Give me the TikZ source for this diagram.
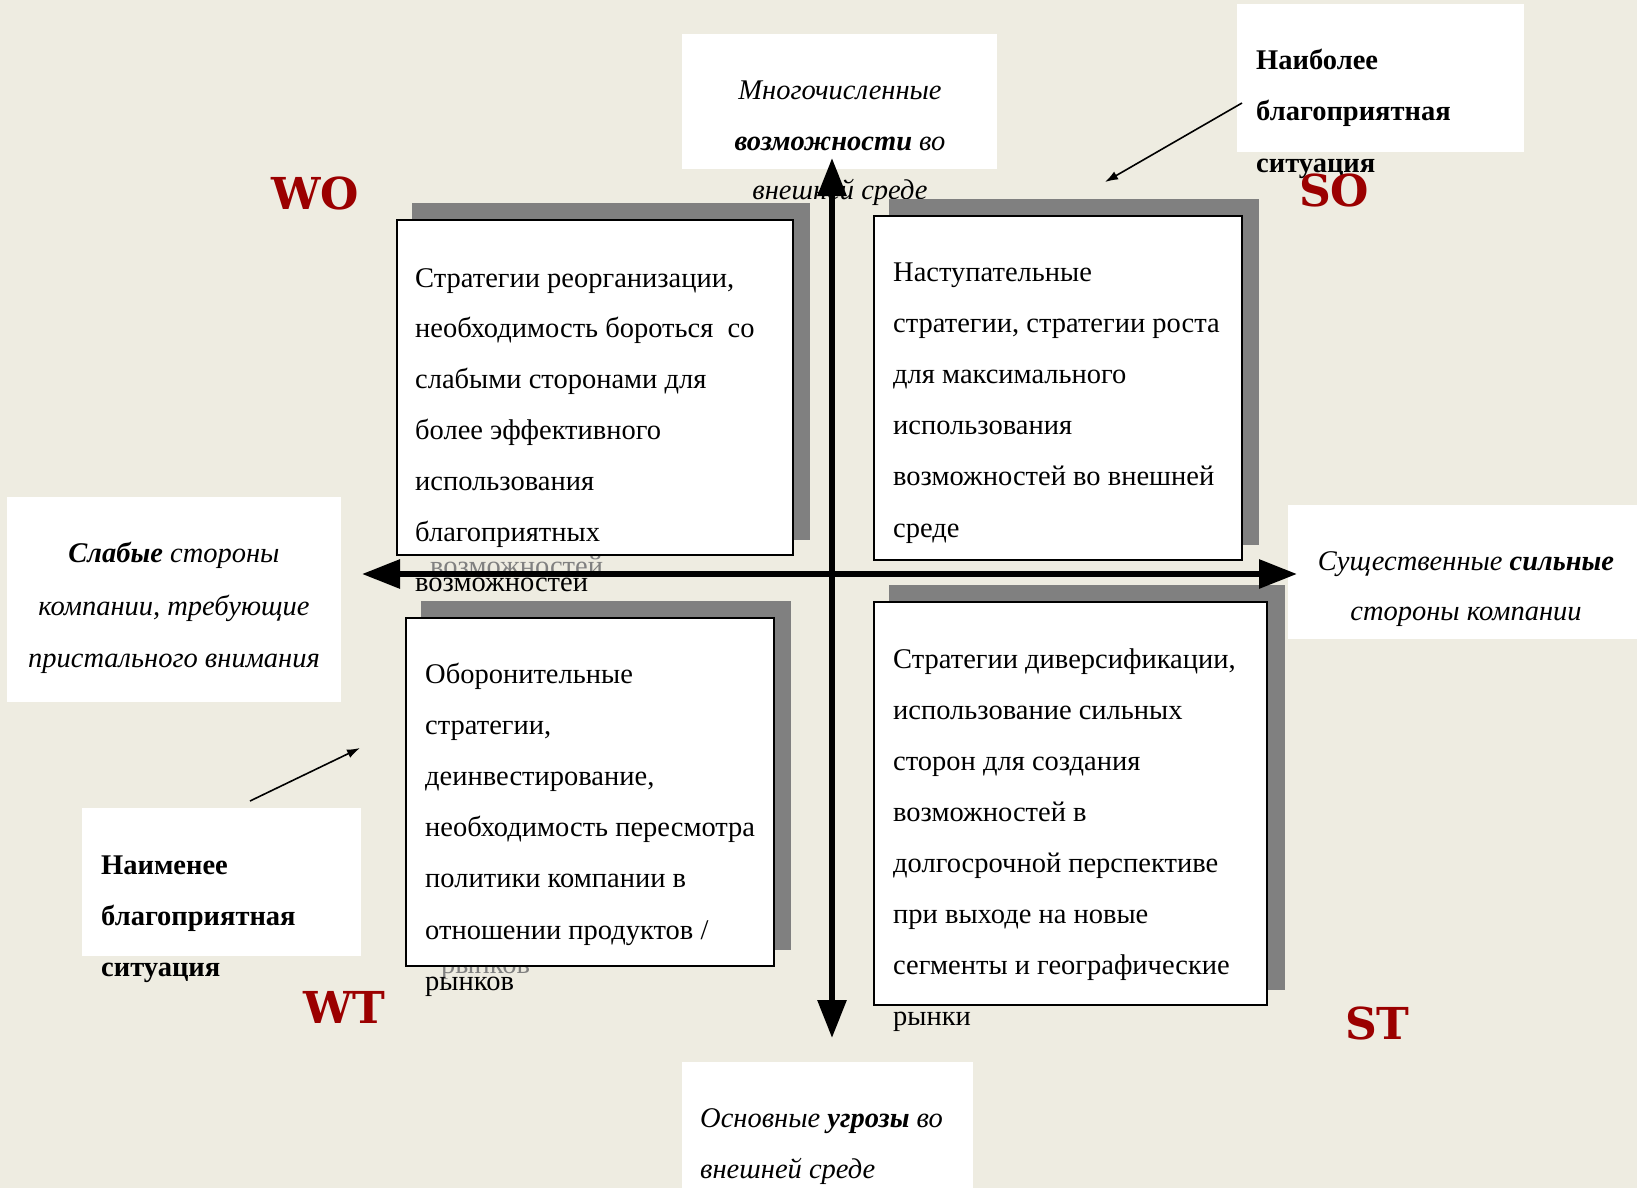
\documentclass[tikz,border=0pt]{standalone}
\usepackage{fontspec}
\setmainfont{Liberation Serif}
\newfontfamily\swotfamily{DejaVu Serif}
\usetikzlibrary{arrows.meta}
\definecolor{bg}{RGB}{238,236,225}
\definecolor{shadowgray}{RGB}{128,128,128}
\definecolor{swotred}{RGB}{155,0,0}
\newcommand\bodyfont{\fontsize{28.5}{34}\selectfont}
\newcommand\redfont{\swotfamily\fontsize{44}{52}\selectfont\bfseries}
\newcommand\qlines[6]{\foreach \t [count=\i] in {#6} {\node[#5] (#1\i) at (#2, {#3+(\i-1)*#4}) {\t};}}
\tikzset{
  ln/.style={anchor=base west, inner sep=0pt, font=\bodyfont},
  ghost/.style={ln, text=shadowgray},
  lnc/.style={anchor=base, inner sep=0pt, font=\bodyfont\itshape},
  lni/.style={ln, font=\bodyfont\itshape},
  lnb/.style={ln, font=\bodyfont\bfseries},
  shadowbox/.style={fill=shadowgray, draw=none},
  quadbox/.style={fill=white, draw=black, line width=1.6pt},
  labelbox/.style={fill=white, draw=none},
  axis/.style={line width=6pt, {Triangle[length=38pt,width=28pt]}-{Triangle[length=38pt,width=28pt]}},
  pointer/.style={line width=1.6pt, -{Latex[length=13pt,width=9pt]}},
  swot/.style={anchor=base west, inner sep=0pt, font=\redfont, text=swotred}
}
\begin{document}
\begin{tikzpicture}[x=1pt,y=-1pt]
\useasboundingbox (0,0) rectangle (1637,1188);
\fill[bg] (0,0) rectangle (1637,1188);

% label boxes
\fill[labelbox] (682,34) rectangle (997,169);
\fill[labelbox] (1237,4) rectangle (1524,152);
\fill[labelbox] (7,497) rectangle (341,702);
\fill[labelbox] (82,808) rectangle (361,956);
\fill[labelbox] (1288,505) rectangle (1637,639);
\fill[labelbox] (682,1062) rectangle (973,1188);

% label texts
\node[lnc] (o1) at (840,100) {Многочисленные};
\node[lnc] (o2) at (840,150) {\textbf{возможности} во};
\node[lnc] (o3) at (840,199) {внешней среде};
\qlines{best}{1256}{70}{51}{lnb}{Наиболее,благоприятная,ситуация}
\node[lnc] (w1) at (174,562) {\textbf{Слабые} стороны};
\node[lnc] (w2) at (174,615) {компании, требующие};
\node[lnc] (w3) at (174,667) {пристального внимания};
\qlines{worst}{101}{874}{51}{lnb}{Наименее,благоприятная,ситуация}
\node[lnc] (s1) at (1466,570) {Существенные \textbf{сильные}};
\node[lnc] (s2) at (1466,620) {стороны компании};
\node[lni] (t1) at (700,1127) {Основные \textbf{угрозы} во};
\node[lni] (t2) at (700,1178) {внешней среде};

% WO quadrant
\fill[shadowbox] (412,203) rectangle (810,540);
\node[ghost] (gwo) at (430,575) {возможностей};
\filldraw[quadbox] (397,220) rectangle (793,555);
\qlines{wo}{415}{287}{50.8}{ln}{{Стратегии реорганизации,},{необходимость бороться\ \ со},{слабыми сторонами для},{более эффективного},{использования},{благоприятных},{возможностей}}

% SO quadrant
\fill[shadowbox] (889,199) rectangle (1259,545);
\filldraw[quadbox] (874,216) rectangle (1242,560);
\qlines{so}{893}{281}{51.2}{ln}{{Наступательные},{стратегии, стратегии роста},{для максимального},{использования},{возможностей во внешней},{среде}}

% WT quadrant
\fill[shadowbox] (421,601) rectangle (791,950);
\node[ghost] (gwt) at (441,973) {рынков};
\filldraw[quadbox] (406,618) rectangle (774,966);
\qlines{wt}{425}{683}{51.2}{ln}{{Оборонительные},{стратегии,},{деинвестирование,},{необходимость пересмотра},{политики компании в},{отношении продуктов /},{рынков}}

% ST quadrant
\fill[shadowbox] (889,585) rectangle (1285,990);
\filldraw[quadbox] (874,602) rectangle (1267,1005);
\qlines{st}{893}{668}{51}{ln}{{Стратегии диверсификации,},{использование сильных},{сторон для создания},{возможностей в},{долгосрочной перспективе},{при выходе на новые},{сегменты и географические},{рынки}}

% SWOT letters
\node[swot] (WO) at (271,209) {WO};
\node[swot] (SO) at (1299,206) {SO};
\node[swot] (WT) at (303,1023) {WT};
\node[swot] (ST) at (1345,1039) {ST};

% axes
\coordinate (vtop) at (832,158);
\coordinate (vbot) at (832,1038);
\coordinate (hl) at (362,574);
\coordinate (hr) at (1297,574);
\draw[axis] (vtop) -- (vbot);
\draw[axis] (hl) -- (hr);

% pointers
\coordinate (p1s) at (1242,103);
\coordinate (p1e) at (1105,182);
\coordinate (p2s) at (250,801);
\coordinate (p2e) at (360,748);
\draw[pointer] (p1s) -- (p1e);
\draw[pointer] (p2s) -- (p2e);
\end{tikzpicture}
\end{document}
